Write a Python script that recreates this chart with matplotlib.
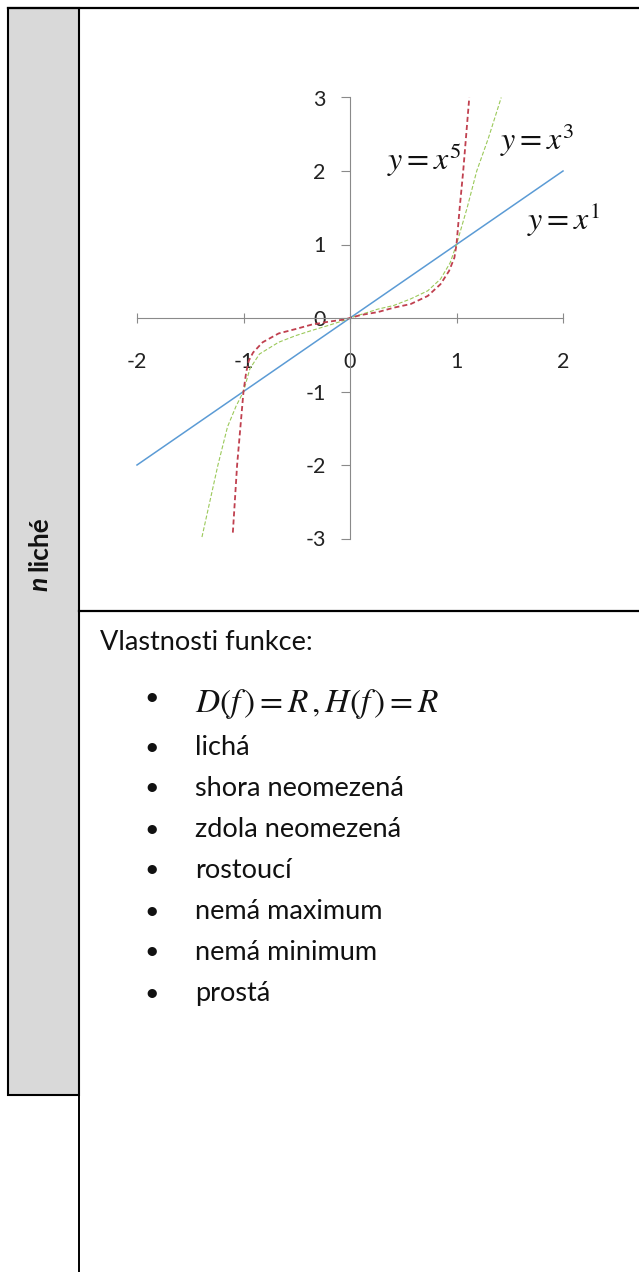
import matplotlib
matplotlib.use("Agg")
import matplotlib.pyplot as plt
from matplotlib.patches import Rectangle

plt.rcParams['font.family'] = ['Lato', 'DejaVu Sans']
plt.rcParams['mathtext.fontset'] = 'stix'

# Data
x1 = [-2, -1, 0, 1, 2]
y1 = [-2, -1, 0, 1, 2]

x3 = [-1.39, -1.24, -1.15, -1.07, -1.0, -0.94, -0.85, -0.67, -0.51, -0.36, -0.2, -0.05, 0,
      0.26, 0.41, 0.57, 0.73, 0.85, 0.94, 1.0, 1.10, 1.19, 1.30, 1.42]
y3 = [-2.98, -2.0, -1.48, -1.2, -1.0, -0.69, -0.49, -0.33, -0.24, -0.17, -0.10, -0.03, 0,
      0.12, 0.17, 0.26, 0.37, 0.53, 0.75, 1.0, 1.5, 2.0, 2.45, 3.0]

x5 = [-1.10, -1.06, -1.03, -1.0, -0.975, -0.95, -0.91, -0.82, -0.67, -0.51, -0.36, -0.2, -0.05, 0,
      0.10, 0.26, 0.41, 0.57, 0.73, 0.85, 0.93, 0.98, 1.0, 1.03, 1.063, 1.12]
y5 = [-2.92, -2.0, -1.5, -1.0, -0.74, -0.58, -0.47, -0.33, -0.21, -0.15, -0.09, -0.05, -0.02, 0,
      0.04, 0.08, 0.14, 0.19, 0.30, 0.46, 0.64, 0.82, 1.0, 1.5, 2.0, 3.0]

xticks = [-2, -1, 0, 1, 2]
yticks = [-3, -2, -1, 0, 1, 2, 3]

side_var = "n"
side_label = "liché"
heading = "Vlastnosti funkce:"
formula = r"$D(f\,)=R\,,H(f\,)=R$"
properties = ["lichá", "shora neomezená", "zdola neomezená", "rostoucí",
              "nemá maximum", "nemá minimum", "prostá"]

W, H = 639, 1272
fig = plt.figure(figsize=(W / 100, H / 100), dpi=100)

# page layer in pixel coordinates
bg = fig.add_axes([0, 0, 1, 1])
bg.set_xlim(0, W)
bg.set_ylim(H, 0)
bg.axis('off')

bg.add_patch(Rectangle((8, 8), 71, 1087, facecolor='#d9d9d9', edgecolor='black', lw=1.5))
bg.plot([8, W], [8, 8], color='black', lw=1.6)
bg.plot([79, 79], [8, H], color='black', lw=1.4)
bg.plot([79, W], [611, 611], color='black', lw=1.6)

# rotated side heading: italic "n" then "liché"
bg.text(47, 591, side_var, rotation=90, rotation_mode='anchor', ha='left', va='baseline',
        fontsize=19, fontweight='bold', fontstyle='italic', color='#111111')
bg.text(47, 571, side_label, rotation=90, rotation_mode='anchor', ha='left', va='baseline',
        fontsize=19, fontweight='bold', color='#111111')

txt = '#111111'
bg.text(100, 650, heading, fontsize=19.5, ha='left', va='baseline', color=txt)
bg.text(152, 698, "•", fontsize=18, ha='center', va='center', color=txt)
bg.text(195, 712, formula, fontsize=24, ha='left', va='baseline', color=txt)
for i, item in enumerate(properties):
    base = 755 + i * 41
    bg.text(152, base - 8, "•", fontsize=18, ha='center', va='center', color=txt)
    bg.text(195, base, item, fontsize=19.5, ha='left', va='baseline', color=txt)

# chart
x0, x_unit = 350, 106.5
y0, y_unit = 318, 73.5
left = (x0 - 2 * x_unit) / W
bottom = 1 - (y0 + 3 * y_unit) / H
ax = fig.add_axes([left, bottom, 4 * x_unit / W, 6 * y_unit / H])
ax.set_facecolor('none')
ax.set_xlim(-2, 2)
ax.set_ylim(-3, 3)

axis_gray = '#8a8a8a'
for s in ['top', 'right']:
    ax.spines[s].set_visible(False)
for s in ['left', 'bottom']:
    ax.spines[s].set_position('zero')
    ax.spines[s].set_color(axis_gray)
    ax.spines[s].set_linewidth(0.8)

ax.set_xticks(xticks)
ax.set_yticks(yticks)
ax.set_xticklabels([str(v) for v in xticks])
ax.set_yticklabels([str(v) for v in yticks])
ax.tick_params(axis='x', direction='inout', length=7.5, width=0.8, color=axis_gray,
               pad=21, labelsize=15.5, labelcolor='#222222')
ax.tick_params(axis='y', direction='out', length=6.5, width=0.8, color=axis_gray,
               pad=11, labelsize=15.5, labelcolor='#222222')

ax.plot(x1, y1, color='#5b9bd5', lw=1.1, clip_on=False)
ax.plot(x3, y3, color='#9bc95a', lw=0.8, dashes=(3.6, 1.8), clip_on=False)
ax.plot(x5, y5, color='#c0404f', lw=1.3, dashes=(2.8, 1.7), clip_on=False)

ax.text(0.35, 2.01, r"$y=x^5$", fontsize=23, ha='left', va='baseline', color=txt)
ax.text(1.41, 2.29, r"$y=x^3$", fontsize=23, ha='left', va='baseline', color=txt)
ax.text(1.66, 1.20, r"$y=x^1$", fontsize=23, ha='left', va='baseline', color=txt)

fig.savefig("out.png", dpi=100)
